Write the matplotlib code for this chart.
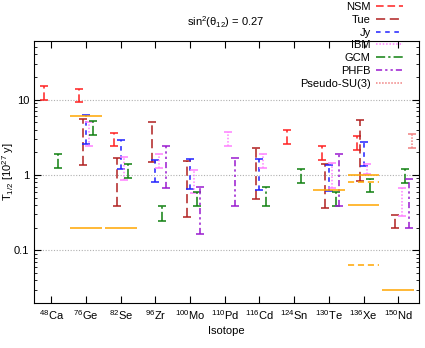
import matplotlib
matplotlib.use("Agg")
import matplotlib.pyplot as plt
import numpy as np

plt.rcParams["font.family"] = ["Liberation Sans Narrow", "Liberation Sans", "DejaVu Sans"]
plt.rcParams["font.size"] = 8
plt.rcParams["mathtext.fontset"] = "custom"
plt.rcParams["mathtext.rm"] = "Liberation Sans Narrow"
plt.rcParams["mathtext.it"] = "Liberation Sans Narrow:italic"
plt.rcParams["mathtext.default"] = "regular"

isotopes = [r"$^{48}$Ca", r"$^{76}$Ge", r"$^{82}$Se", r"$^{96}$Zr", r"$^{100}$Mo",
            r"$^{110}$Pd", r"$^{116}$Cd", r"$^{124}$Sn", r"$^{130}$Te",
            r"$^{136}$Xe", r"$^{150}$Nd"]

# T1/2 ranges [10^27 y] per model: (isotope index, low, high)
nsm = [(0, 9.8, 15.0), (1, 9.2, 13.9), (2, 2.39, 3.6), (7, 2.57, 3.9),
       (8, 1.58, 2.39), (9, 2.15, 3.3)]
tue = [(1, 1.37, 5.5), (2, 0.386, 1.69), (3, 1.49, 5.0), (4, 0.275, 1.55),
       (6, 0.474, 2.31), (8, 0.367, 1.4), (9, 0.83, 5.4), (10, 0.198, 0.296)]
jy = [(1, 2.54, 6.25), (2, 1.19, 2.9), (3, 0.81, 1.57), (4, 0.66, 1.62),
      (6, 0.63, 1.62), (8, 0.62, 1.36), (9, 1.33, 2.75)]
ibm = [(1, 2.44, 5.1), (2, 0.86, 1.72), (3, 1.24, 1.9), (4, 0.57, 1.17),
       (5, 2.44, 3.7), (6, 1.23, 1.87), (8, 0.665, 1.46), (9, 1.02, 1.39),
       (10, 0.284, 0.665)]
gcm = [(0, 1.24, 1.9), (1, 3.38, 5.2), (2, 0.92, 1.40), (3, 0.246, 0.39),
       (4, 0.386, 0.59), (6, 0.386, 0.69), (7, 0.78, 1.2), (8, 0.386, 0.59),
       (9, 0.59, 0.89), (10, 0.78, 1.19)]
phfb = [(3, 0.665, 2.39), (4, 0.165, 0.69), (5, 0.39, 1.69), (8, 0.386, 1.89),
        (10, 0.198, 0.89)]
psu3 = [(10, 2.31, 3.52)]

# experimental limits: (isotope index, value)
exp_solid = [(1, 6.0), (1, 0.2), (2, 0.2), (8, 0.64), (9, 1.0), (9, 0.4), (10, 0.03)]
exp_dashed = [(9, 0.8), (9, 0.064)]

models = [
    ("NSM", nsm, "#ff2020", (0, (5, 2.5))),
    ("Tue", tue, "#b02020", (0, (6, 3))),
    ("Jy", jy, "#2020ff", (0, (3, 3))),
    ("IBM", ibm, "#ff80ff", (0, (1, 1.2))),
    ("GCM", gcm, "#108010", (0, (6, 2, 1.5, 2))),
    ("PHFB", phfb, "#9a1ad0", (0, (4, 2, 1.5, 2, 1.5, 2))),
    ("Pseudo-SU(3)", psu3, "#f08080", (0, (1, 1))),
]

fig = plt.figure(figsize=(4.25, 3.48), dpi=100)
ax = fig.add_axes([34 / 425, 45 / 348, 385 / 425, 262 / 348])

x = np.arange(1, len(isotopes) + 1)

for k, (name, data, color, ls) in enumerate(models):
    off = (k - 2) * 0.1
    xs = [x[i] + off for i, lo, hi in data]
    los = [lo for i, lo, hi in data]
    his = [hi for i, lo, hi in data]
    ax.vlines(xs, los, his, colors=color, linestyles=[ls], lw=1.1)
    ax.plot(xs + xs, los + his, ls="none", marker="_", ms=6, mew=1.1, color=color)
    ax.plot([], [], color=color, ls=ls, lw=1.1, label=name)

for i, v in exp_solid:
    ax.hlines(v, x[i] - 0.46, x[i] + 0.46, colors="#ffa500", lw=1.1)
for i, v in exp_dashed:
    ax.hlines(v, x[i] - 0.46, x[i] + 0.46, colors="#ffa500", lw=1.1,
              linestyles=[(0, (4, 2.5))])

ax.set_yscale("log")
ax.set_ylim(0.02, 60)
ax.set_xlim(0.5, 11.6)
ax.set_xticks(x)
ax.set_xticklabels(isotopes)
ax.set_yticks([0.1, 1, 10])
ax.set_yticklabels(["0.1", "1", "10"])
ax.yaxis.grid(True, which="major", color="#b0b0b0", ls=(0, (1, 1.5)), lw=0.8)
ax.tick_params(which="both", direction="in", top=True, right=True)
ax.tick_params(which="major", length=5, width=0.8)
ax.tick_params(which="minor", length=2.5, width=0.6)
ax.tick_params(axis="x", which="minor", top=False, bottom=False)
for s in ax.spines.values():
    s.set_linewidth(0.8)

ax.set_xlabel("Isotope", labelpad=3)
ax.set_ylabel(r"T$_{1/2}$ [10$^{27}$ y]")
ax.yaxis.set_label_coords(-0.048, 0.5)

fig.text(226 / 425, 1 - 22 / 348, r"sin$^2$($\theta_{12}$) = 0.27",
         ha="center", va="center")

fig.legend(loc="upper right", bbox_to_anchor=(403 / 425, 1 - 2 / 348),
           frameon=False, markerfirst=False, handlelength=2.4,
           handletextpad=0.5, labelspacing=0.25, borderpad=0,
           borderaxespad=0)

fig.savefig("out.png", dpi=100)
